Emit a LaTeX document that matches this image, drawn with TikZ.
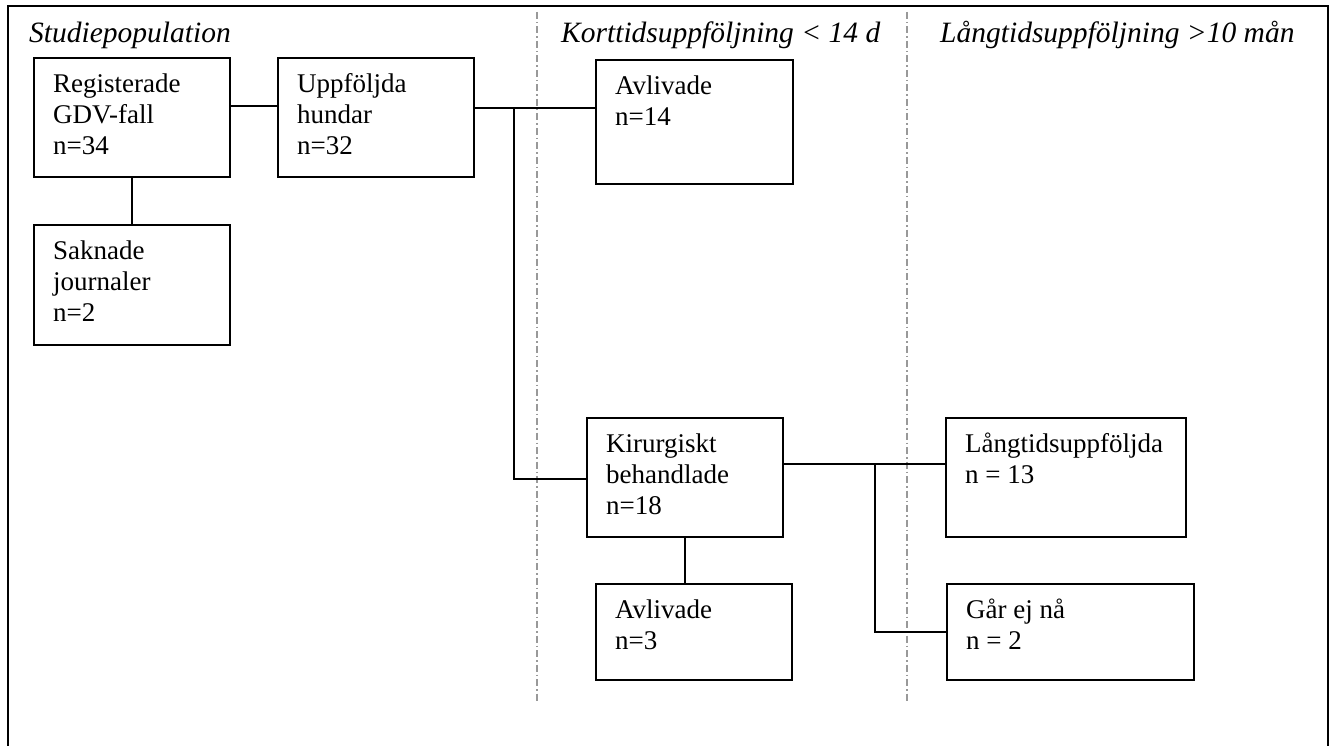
\documentclass[tikz,border=0pt]{standalone}
\usepackage{fontspec}
\setmainfont{Liberation Serif}
\usetikzlibrary{calc}
\begin{document}
\begin{tikzpicture}[x=1pt,y=-1pt,
  box/.style={draw, line width=2pt, anchor=north west, inner sep=0pt},
  txt/.style={anchor=north west, align=left, inner sep=0pt, font=\fontsize{27}{31}\selectfont},
  head/.style={anchor=base west, inner sep=0pt, font=\fontsize{29.5}{33}\selectfont\itshape},
  conn/.style={line width=2pt},
  sep/.style={draw=black!40, line width=1.5pt, dash pattern=on 7pt off 3pt on 1.5pt off 3pt}]
\useasboundingbox (0,0) rectangle (1335,746);
\fill[white] (0,0) rectangle (1335,746);
% frame
\draw[line width=2.5pt] (8,746) -- (8,6) -- (1328,6) -- (1328,746);
% separators
\draw[sep] (537,12) -- (537,703);
\draw[sep] (907,12) -- (907,703);
% headers
\node[head] (h1) at (29,43) {Studiepopulation};
\node[head] (h2) at (561,43) {Korttidsuppföljning < 14 d};
\node[head] (h3) at (940,43) {Långtidsuppföljning >10 mån};
% boxes
\node[box, minimum width=196pt, minimum height=119pt] (reg) at (33,57) {};
\node[box, minimum width=196pt, minimum height=119pt] (upp) at (277,57) {};
\node[box, minimum width=196pt, minimum height=120pt] (sak) at (33,224) {};
\node[box, minimum width=197pt, minimum height=124pt] (av14) at (595,59) {};
\node[box, minimum width=196pt, minimum height=119pt] (kir) at (586,417) {};
\node[box, minimum width=196pt, minimum height=96pt] (av3) at (595,583) {};
\node[box, minimum width=240pt, minimum height=119pt] (lang) at (945,417) {};
\node[box, minimum width=247pt, minimum height=96pt] (gar) at (946,583) {};
% texts
\node[txt] (treg) at ($(reg.north west)+(20,13.3)$) {\strut Registerade\\GDV-fall\\n=34};
\node[txt] (tupp) at ($(upp.north west)+(20,13.3)$) {\strut Uppföljda\\hundar\\n=32};
\node[txt] (tsak) at ($(sak.north west)+(20,13.3)$) {\strut Saknade\\journaler\\n=2};
\node[txt] (tav14) at ($(av14.north west)+(20,13.3)$) {\strut Avlivade\\n=14};
\node[txt] (tkir) at ($(kir.north west)+(20,13.3)$) {\strut Kirurgiskt\\behandlade\\n=18};
\node[txt] (tav3) at ($(av3.north west)+(20,13.3)$) {\strut Avlivade\\n=3};
\node[txt] (tlang) at ($(lang.north west)+(20,13.3)$) {\strut Långtidsuppföljda\\n = 13};
\node[txt] (tgar) at ($(gar.north west)+(20,13.3)$) {\strut Går ej nå\\n = 2};
% connectors
\draw[conn] ($(reg.north east)+(0,49)$) -- ($(upp.north west)+(0,49)$);
\draw[conn] (reg.south) -- (sak.north);
\coordinate (j1) at ($(upp.north east)+(39,51)$);
\coordinate (kirw) at ($(kir.north west)+(0,62)$);
\draw[conn] ($(upp.north east)+(0,51)$) -- (j1 -| av14.west);
\draw[conn] (j1) -- (j1 |- kirw) -- (kirw);
\draw[conn] (kir.south) -- (kir.south |- av3.north);
\coordinate (j2) at ($(kir.north east)+(91,47)$);
\draw[conn] ($(kir.north east)+(0,47)$) -- (j2 -| lang.west);
\draw[conn] (j2) -- (j2 |- gar.west) -- (gar.west);
\end{tikzpicture}
\end{document}
